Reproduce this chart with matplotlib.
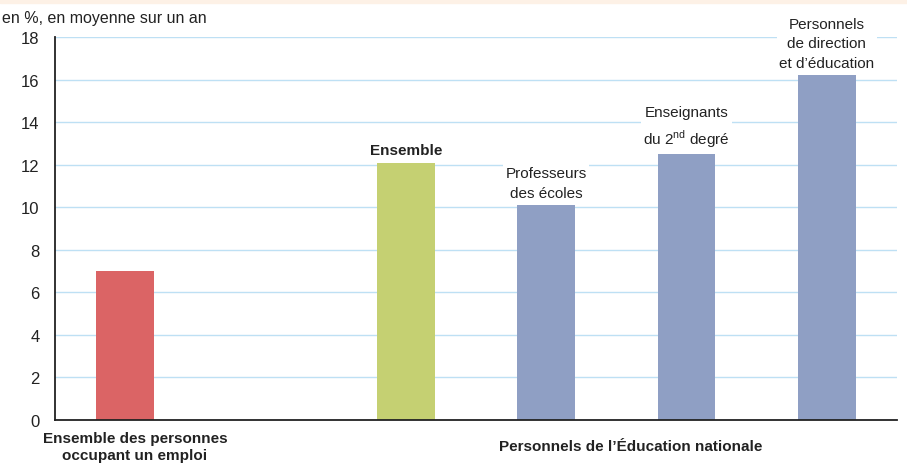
import matplotlib.pyplot as plt
import matplotlib.patches as mpatches
import matplotlib.transforms as mtransforms

plt.rcParams["font.family"] = ["Liberation Sans", "DejaVu Sans"]
plt.rcParams["mathtext.fontset"] = "custom"
plt.rcParams["mathtext.rm"] = "Liberation Sans"

# bar positions (gap between the first bar and the Education group)
positions = [0, 2, 3, 4, 5]
values = [7.0, 12.1, 10.1, 12.5, 16.2]
bar_labels = ["", "Ensemble", "Professeurs\ndes écoles",
              "Enseignants\ndu 2$^{\\mathrm{nd}}$ degré",
              "Personnels\nde direction\net d’éducation"]
colors = ["#DB6465", "#C5D072", "#8F9FC4", "#8F9FC4", "#8F9FC4"]
group_labels = ["Ensemble des personnes\noccupant un emploi",
                "Personnels de l’Éducation nationale"]
group_x = [0.07, 3.6]
yticks = [0, 2, 4, 6, 8, 10, 12, 14, 16, 18]

fig = plt.figure(figsize=(9.07, 4.64), dpi=100)
# cropped title band at the top
fig.patches.append(mpatches.Rectangle((0, 0.992), 1, 0.008, transform=fig.transFigure,
                                      color="#FDF1E6", zorder=0))
ax = fig.add_axes([0.0606, 0.0927, 0.9284, 0.8253])

ax.bar(positions, values, width=0.41, color=colors, zorder=2)

for x, v, lab in zip(positions, values, bar_labels):
    if not lab:
        continue
    ax.annotate(lab, xy=(x, v), xytext=(0, 4), textcoords="offset points",
                ha="center", va="bottom", fontsize=11, linespacing=1.5,
                fontweight="bold" if lab == "Ensemble" else "normal",
                color="#222222", zorder=3,
                bbox=dict(facecolor="white", edgecolor="none", pad=1.5))

ax.set_xlim(-0.5, 5.5)
ax.set_ylim(0, 18)
ax.set_yticks(yticks)
ax.tick_params(axis="y", length=0, pad=11, labelsize=12, labelcolor="#222222")
ax.set_xticks([])
ax.grid(axis="y", color="#BEE0F4", linewidth=1.0, zorder=0)
ax.set_axisbelow(True)
for s in ["top", "right"]:
    ax.spines[s].set_visible(False)
for s in ["left", "bottom"]:
    ax.spines[s].set_color("#222222")
    ax.spines[s].set_linewidth(1.3)

# group labels under the axis, shifted in points
for gx, lab, dy in zip(group_x, group_labels, [8, 14]):
    off = mtransforms.ScaledTranslation(0, -dy / 72, fig.dpi_scale_trans)
    ax.text(gx, 0, lab, transform=ax.get_xaxis_transform() + off,
            ha="center", va="top", fontsize=11, fontweight="bold",
            color="#222222", linespacing=1.3)

fig.text(0.002, 0.945, "en %, en moyenne sur un an", ha="left", va="bottom",
         fontsize=11.5, color="#222222")

fig.savefig("out.png", dpi=100, facecolor="white")
